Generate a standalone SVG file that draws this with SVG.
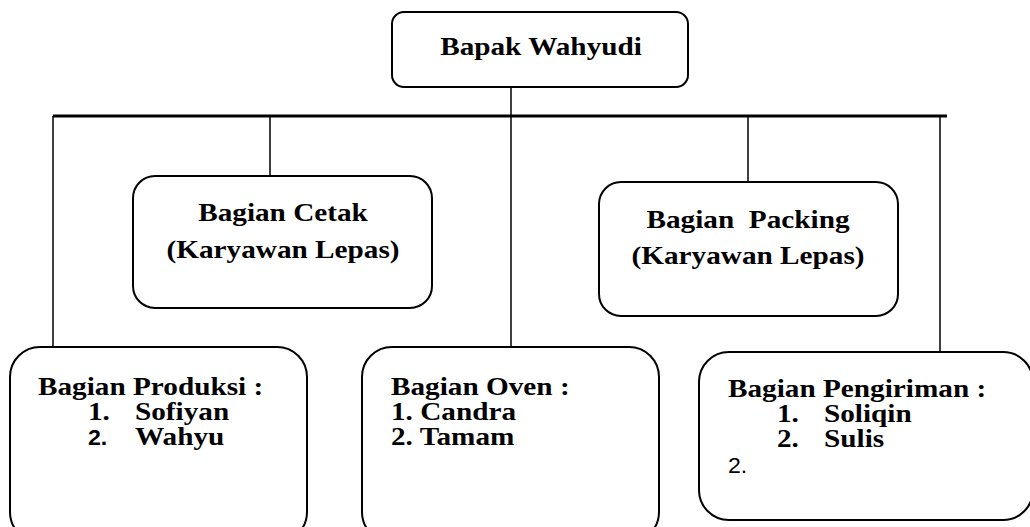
<svg xmlns="http://www.w3.org/2000/svg" width="1030" height="527" viewBox="0 0 1030 527">
<style>
.box{fill:#fff;stroke:#000;stroke-width:2}
.ln{stroke:#000;stroke-width:1.5;fill:none}
.t{font-family:"Liberation Serif","Times New Roman",serif;font-weight:bold;font-size:25px;fill:#000}
.c{text-anchor:middle}
.s{font-family:"Liberation Sans",Arial,sans-serif;font-weight:bold;font-size:22px;fill:#000}
.sr{font-family:"Liberation Sans",Arial,sans-serif;font-size:22px;fill:#000}
</style>
<rect width="1030" height="527" fill="#fff"/>
<g id="connectors">
<line class="ln" x1="511" y1="87" x2="511" y2="347"/>
<line x1="53" y1="116" x2="947" y2="116" stroke="#000" stroke-width="3"/>
<line class="ln" x1="53" y1="116" x2="53" y2="347"/>
<line class="ln" x1="270" y1="116" x2="270" y2="176"/>
<line class="ln" x1="748" y1="116" x2="748" y2="182"/>
<line class="ln" x1="940" y1="116" x2="940" y2="352"/>
</g>
<g id="wahyudi">
<rect class="box" x="392" y="12" width="296" height="75" rx="12"/>
<text class="t c" transform="translate(541,55) scale(1.17,1)">Bapak Wahyudi</text>
</g>
<g id="cetak">
<rect class="box" x="133" y="176" width="299" height="132" rx="22"/>
<text class="t c" transform="translate(283,221) scale(1.17,1)">Bagian Cetak</text>
<text class="t c" transform="translate(283,258) scale(1.17,1)">(Karyawan Lepas)</text>
</g>
<g id="packing">
<rect class="box" x="599" y="182" width="299" height="134" rx="22"/>
<text class="t c" transform="translate(748,228) scale(1.17,1)" xml:space="preserve">Bagian  Packing</text>
<text class="t c" transform="translate(748,264) scale(1.17,1)">(Karyawan Lepas)</text>
</g>
<g id="produksi">
<rect class="box" x="10" y="347" width="297" height="195" rx="30"/>
<text class="t" transform="translate(38,395) scale(1.17,1)">Bagian Produksi :</text>
<text class="t" transform="translate(88,420) scale(1.17,1)">1.</text>
<text class="t" transform="translate(135,420) scale(1.17,1)">Sofiyan</text>
<text class="s" transform="translate(88,445) scale(1.05,1)">2.</text>
<text class="t" transform="translate(135,445) scale(1.17,1)">Wahyu</text>
</g>
<g id="oven">
<rect class="box" x="362" y="347" width="297" height="195" rx="30"/>
<text class="t" transform="translate(391,395) scale(1.17,1)">Bagian Oven :</text>
<text class="t" transform="translate(391,420) scale(1.17,1)">1. Candra</text>
<text class="t" transform="translate(391,445) scale(1.17,1)">2. Tamam</text>
</g>
<g id="pengiriman">
<rect class="box" x="699" y="352" width="334" height="168" rx="30"/>
<text class="t" transform="translate(728,397) scale(1.17,1)">Bagian Pengiriman :</text>
<text class="t" transform="translate(777,422) scale(1.17,1)">1.</text>
<text class="t" transform="translate(824,422) scale(1.17,1)">Soliqin</text>
<text class="t" transform="translate(777,447) scale(1.17,1)">2.</text>
<text class="t" transform="translate(824,447) scale(1.17,1)">Sulis</text>
<text class="sr" transform="translate(728,473) scale(1.05,1)">2.</text>
</g>
</svg>
